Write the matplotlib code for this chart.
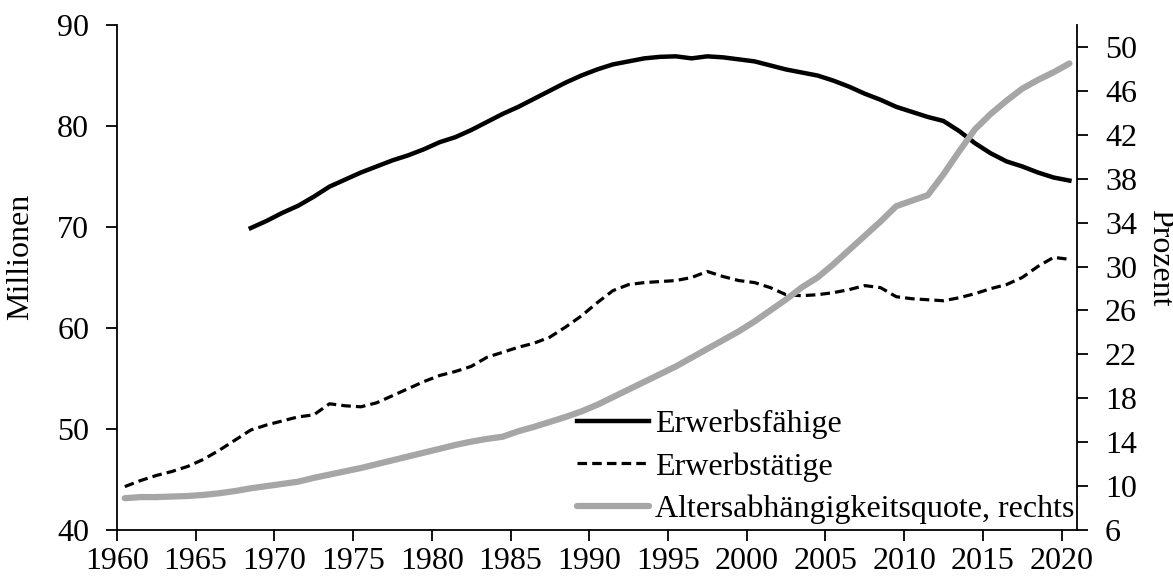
import numpy as np
import matplotlib
matplotlib.use("Agg")
import matplotlib.pyplot as plt

plt.rcParams['font.family'] = ['Liberation Serif', 'DejaVu Serif']
plt.rcParams['font.size'] = 23

# Daten, Jahreswerte
jahre_erwerbsfaehige = list(range(1968, 2021))
erwerbsfaehige = [
    69.9, 70.6, 71.4, 72.1, 73.0, 74.0, 74.7, 75.4, 76.0, 76.6,
    77.1, 77.7, 78.4, 78.9, 79.6, 80.4, 81.2, 81.9, 82.7, 83.5,
    84.3, 85.0, 85.6, 86.1, 86.4, 86.7, 86.85, 86.9, 86.7, 86.9,
    86.8, 86.6, 86.4, 86.0, 85.6, 85.3, 85.0, 84.5, 83.9, 83.2,
    82.6, 81.9, 81.4, 80.9, 80.5, 79.5, 78.3, 77.3, 76.5, 76.0,
    75.4, 74.9, 74.6,
]

jahre = list(range(1960, 2021))
erwerbstaetige = [
    44.3, 44.9, 45.4, 45.8, 46.3, 47.0, 47.9, 48.9, 49.9, 50.4,
    50.8, 51.2, 51.4, 52.5, 52.3, 52.2, 52.6, 53.3, 54.0, 54.7,
    55.3, 55.7, 56.2, 57.1, 57.6, 58.1, 58.5, 59.1, 60.1, 61.2,
    62.5, 63.7, 64.3, 64.5, 64.6, 64.7, 65.0, 65.6, 65.1, 64.7,
    64.5, 64.0, 63.3, 63.2, 63.3, 63.5, 63.8, 64.2, 64.0, 63.1,
    62.9, 62.8, 62.7, 63.0, 63.4, 63.9, 64.3, 65.0, 66.1, 67.0,
    66.8,
]
altersquote = [
    8.9, 9.0, 9.0, 9.05, 9.1, 9.2, 9.35, 9.55, 9.8, 10.0,
    10.2, 10.4, 10.75, 11.05, 11.35, 11.65, 12.0, 12.35, 12.7, 13.05,
    13.4, 13.75, 14.05, 14.3, 14.5, 15.0, 15.4, 15.85, 16.3, 16.8,
    17.4, 18.1, 18.8, 19.5, 20.2, 20.9, 21.7, 22.5, 23.3, 24.1,
    25.0, 26.0, 27.0, 28.1, 29.0, 30.2, 31.5, 32.8, 34.1, 35.5,
    36.0, 36.5, 38.4, 40.5, 42.5, 43.9, 45.1, 46.2, 47.0, 47.7,
    48.5,
]

xticks = list(range(1960, 2021, 5))
grau = '#A6A6A6'

fig = plt.figure(figsize=(11.73, 5.82), dpi=100)
ax = fig.add_axes([0.0997, 0.0893, 0.8187, 0.8677])
ax2 = ax.twinx()

# Jahreswerte in der Mitte des Jahres zeichnen
x1 = np.array(jahre_erwerbsfaehige) + 0.5
x2 = np.array(jahre) + 0.5

l1, = ax.plot(x1, erwerbsfaehige, color='black', lw=3.2, label='Erwerbsfähige')
l2, = ax.plot(x2, erwerbstaetige, color='black', lw=2.3, ls=(0, (3, 1.6)),
              label='Erwerbstätige')
l3, = ax2.plot(x2, altersquote, color=grau, lw=4.5,
               label='Altersabhängigkeitsquote, rechts', solid_capstyle='round')

ax.set_xlim(1960, 2021)
ax.set_ylim(40, 90)
ax2.set_ylim(6, 52)
ax.set_xticks(xticks)
ax.set_yticks(range(40, 91, 10))
ax2.set_yticks(range(6, 51, 4))

for a in (ax, ax2):
    a.spines['top'].set_visible(False)
    for s in a.spines.values():
        s.set_linewidth(1.3)
ax.spines['right'].set_visible(False)
ax2.spines['left'].set_visible(False)
ax2.spines['bottom'].set_visible(False)

ax.tick_params(axis='y', direction='out', length=8, width=1.3, pad=12)
ax.tick_params(axis='x', direction='out', length=8, width=1.3, pad=4)
ax2.tick_params(axis='y', direction='out', length=8, width=1.3, pad=12)

ax.set_ylabel('Millionen')
ax.yaxis.set_label_coords(-0.085, 0.54)
ax2.set_ylabel('Prozent', rotation=270, va='bottom')
ax2.yaxis.set_label_coords(1.071, 0.54)

ax2.legend(handles=[l1, l2, l3], loc='lower right', frameon=False,
           bbox_to_anchor=(1.0, 0.006), handlelength=2.25, handletextpad=0.19,
           labelspacing=0.4, borderaxespad=0, borderpad=0.1)

fig.savefig('out.png', dpi=100)
